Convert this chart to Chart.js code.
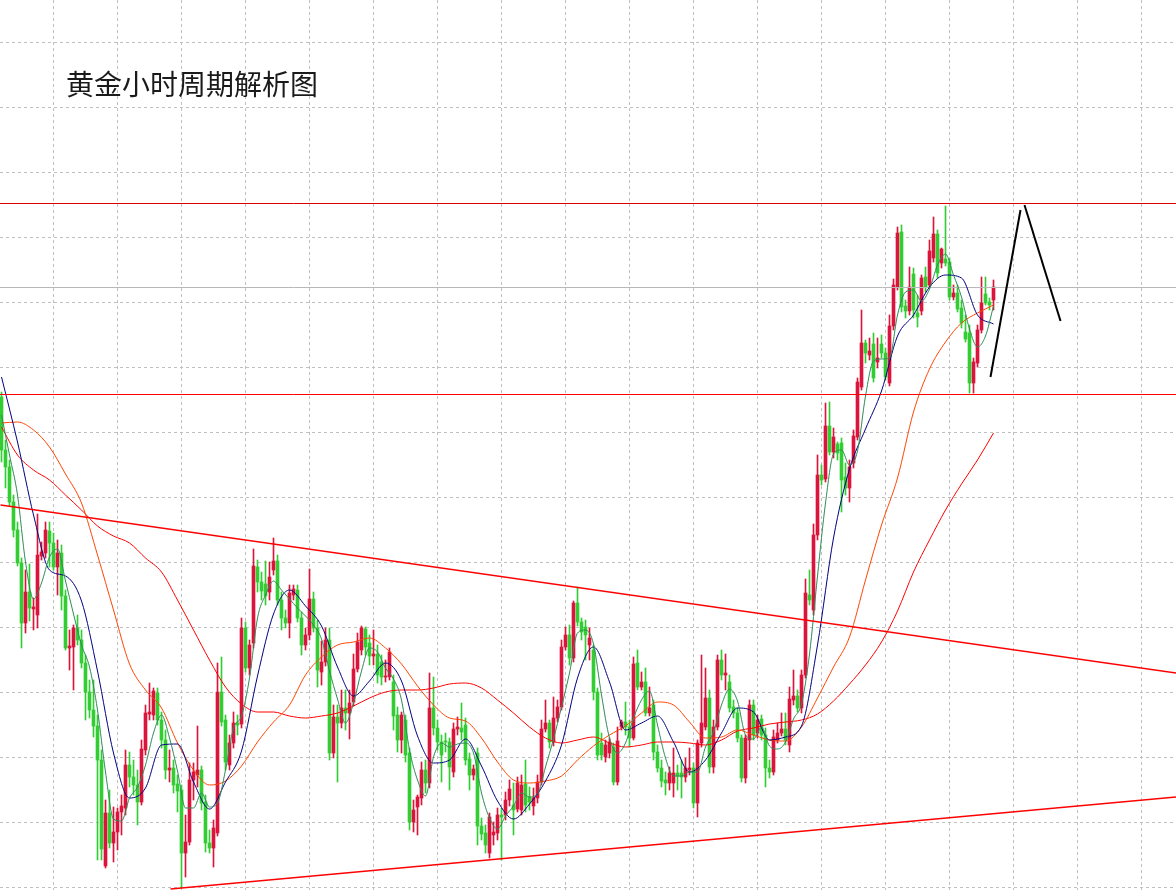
<!DOCTYPE html>
<html lang="zh">
<head>
<meta charset="UTF-8" />
<title>黄金小时周期解析图</title>
<script src="https://cdn.jsdelivr.net/npm/chart.js@4"></script>
<style>
  html, body { margin: 0; padding: 0; background: #ffffff; }
  .wrap { position: relative; width: 1176px; height: 890px; overflow: hidden; }
  #chart { display: block; }
  .title {
    position: absolute; left: 66px; top: 69px;
    font-family: "Noto Sans CJK SC", "Noto Sans", sans-serif;
    font-size: 28px; line-height: 28px; color: #1a1a1a; white-space: nowrap;
  }
</style>
</head>
<body>
<div class="wrap">
  <canvas id="chart" width="1176" height="890"></canvas>
  <div class="title">黄金小时周期解析图</div>
</div>

<script>
  // hourly candles, one entry per bar (oldest first)
  const opens = [1960.3,1955.0,1953.3,1949.8,1947.0,1943.7,1937.7,1940.8,1939.1,1938.5,
    1944.4,1944.7,1946.9,1945.7,1943.3,1944.7,1940.4,1935.2,1935.3,1937.2,
    1936.0,1933.7,1930.8,1929.0,1927.4,1924.0,1913.4,1918.7,1915.7,1916.8,
    1918.8,1919.2,1923.5,1922.3,1921.5,1919.8,1925.0,1928.6,1928.5,1930.7,
    1928.0,1926.0,1923.0,1923.2,1921.6,1921.0,1914.7,1915.8,1922.0,1922.5,
    1923.0,1919.8,1915.7,1915.2,1916.7,1930.8,1928.0,1923.5,1925.7,1927.7,
    1927.6,1937.2,1933.2,1935.7,1943.3,1941.8,1941.6,1940.8,1943.0,1943.9,
    1940.0,1938.2,1937.7,1940.5,1941.0,1938.2,1935.5,1936.5,1940.1,1937.2,
    1932.8,1933.8,1936.0,1924.7,1928.3,1927.7,1929.2,1928.7,1929.8,1933.1,
    1935.0,1937.1,1935.7,1934.4,1934.6,1933.8,1932.3,1932.3,1931.8,1928.5,
    1926.0,1928.0,1924.7,1917.8,1919.3,1920.2,1923.0,1921.7,1929.2,1927.2,
    1925.8,1925.9,1925.8,1922.8,1927.1,1927.2,1927.5,1924.1,1922.5,1924.7,
    1917.4,1916.7,1914.7,1916.5,1916.7,1918.5,1918.5,1920.0,1919.5,1919.1,
    1919.0,1921.6,1920.3,1919.4,1920.2,1921.8,1927.1,1927.7,1925.8,1928.2,
    1929.3,1935.3,1936.5,1934.2,1939.7,1937.8,1937.3,1935.5,1935.0,1930.8,
    1925.7,1924.3,1924.7,1925.3,1921.8,1927.3,1927.8,1927.3,1926.2,1933.7,
    1931.3,1931.8,1928.7,1929.5,1924.8,1923.2,1922.0,1921.7,1921.7,1922.7,
    1922.7,1922.3,1923.0,1923.2,1919.7,1925.7,1927.3,1930.2,1923.3,1927.3,
    1934.0,1932.5,1931.8,1929.3,1928.7,1926.2,1922.2,1926.0,1929.5,1926.7,
    1928.1,1926.5,1923.2,1922.8,1926.0,1926.7,1927.1,1925.5,1930.0,1930.4,
    1929.2,1932.5,1940.5,1939.0,1946.5,1952.5,1952.1,1957.4,1954.8,1955.6,
    1955.7,1952.3,1951.2,1953.7,1956.3,1961.3,1965.7,1964.5,1965.6,1963.8,
    1965.6,1964.7,1961.7,1967.4,1971.3,1976.8,1969.4,1968.9,1972.6,1968.7,
    1968.9,1972.3,1971.5,1974.2,1976.6,1973.7,1974.1,1973.8,1970.3,1970.7,
    1969.2,1966.8,1966.7,1961.7,1963.7,1967.0,1970.6,1969.8,1970.0];

  const highs = [1960.8,1956.0,1954.0,1950.5,1947.8,1944.2,1943.0,1943.6,1940.2,1948.6,
    1945.8,1947.8,1947.8,1946.7,1946.0,1945.5,1941.0,1937.0,1937.5,1938.5,
    1937.0,1934.5,1932.0,1932.0,1928.5,1925.0,1920.0,1921.0,1919.3,1919.2,
    1920.5,1925.0,1924.8,1924.0,1923.0,1926.0,1929.5,1931.7,1931.2,1931.2,
    1928.8,1927.0,1925.0,1924.0,1922.5,1921.5,1918.5,1923.7,1923.7,1927.4,
    1923.4,1920.5,1917.0,1918.0,1933.7,1934.3,1928.5,1926.5,1928.8,1928.5,
    1938.2,1937.8,1936.0,1945.1,1944.0,1942.8,1943.9,1943.8,1946.2,1944.5,
    1940.8,1939.0,1941.5,1941.5,1941.5,1938.8,1937.2,1943.1,1940.8,1938.0,
    1935.9,1937.2,1937.2,1929.5,1929.5,1931.0,1931.0,1931.0,1934.6,1936.7,
    1937.4,1937.3,1936.5,1937.0,1935.5,1934.5,1934.0,1935.2,1932.5,1929.3,
    1928.8,1928.5,1925.2,1920.0,1920.5,1923.8,1924.0,1932.7,1932.3,1928.0,
    1926.5,1926.7,1926.2,1927.7,1928.3,1929.7,1928.2,1924.7,1923.5,1925.2,
    1918.2,1917.5,1918.7,1917.8,1919.2,1919.2,1920.8,1922.0,1921.7,1922.3,
    1922.5,1924.0,1921.3,1921.2,1922.5,1928.0,1930.0,1928.0,1930.3,1930.0,
    1936.0,1937.3,1937.5,1939.9,1941.3,1938.2,1938.0,1937.2,1935.5,1931.2,
    1926.7,1926.0,1926.2,1925.7,1927.3,1928.0,1929.8,1928.0,1934.3,1935.0,
    1932.8,1933.2,1931.3,1930.0,1925.5,1924.0,1922.8,1923.3,1925.2,1923.5,
    1924.0,1924.2,1925.2,1923.7,1926.0,1934.5,1933.2,1931.0,1928.0,1934.5,
    1935.0,1934.6,1932.5,1930.0,1929.2,1926.5,1926.5,1930.0,1930.0,1928.5,
    1928.5,1927.2,1924.0,1927.0,1927.7,1928.7,1928.7,1931.3,1933.0,1931.0,
    1933.0,1942.1,1943.0,1947.6,1954.5,1953.5,1959.7,1959.8,1957.2,1955.8,
    1956.2,1953.7,1954.0,1957.0,1962.2,1969.0,1966.0,1966.2,1966.7,1966.2,
    1966.5,1965.2,1968.5,1972.1,1977.3,1977.5,1970.0,1973.3,1973.2,1970.5,
    1972.5,1973.3,1976.0,1978.3,1977.0,1975.2,1979.4,1974.2,1971.5,1971.5,
    1970.0,1968.5,1967.5,1964.2,1967.5,1972.3,1972.3,1970.2,1972.0];

  const lows = [1953.8,1951.2,1949.4,1946.3,1943.4,1935.2,1936.7,1937.9,1937.0,1937.2,
    1944.0,1944.2,1943.3,1943.0,1940.5,1939.0,1935.0,1933.0,1931.0,1935.5,
    1933.2,1928.0,1928.2,1926.3,1914.0,1914.0,1913.2,1915.2,1913.8,1915.0,
    1916.5,1918.5,1921.3,1920.5,1917.5,1919.5,1924.5,1928.0,1928.0,1927.5,
    1925.2,1922.1,1921.8,1920.7,1918.8,1911.2,1912.3,1915.5,1920.0,1921.3,
    1919.0,1914.8,1914.7,1913.3,1916.4,1927.4,1923.0,1923.0,1925.2,1926.5,
    1927.2,1932.8,1932.5,1935.2,1940.8,1940.0,1939.5,1940.0,1942.5,1939.5,
    1937.0,1937.2,1936.2,1940.0,1937.8,1934.5,1935.0,1936.0,1936.8,1931.3,
    1931.5,1933.4,1924.0,1924.2,1921.8,1927.2,1927.0,1926.1,1929.4,1932.8,
    1934.5,1934.5,1933.5,1933.5,1931.7,1931.5,1931.8,1932.0,1927.0,1924.8,
    1924.7,1923.8,1917.0,1916.8,1916.5,1919.5,1920.7,1921.2,1926.5,1925.0,
    1921.8,1924.8,1921.0,1922.3,1926.5,1926.0,1923.5,1921.0,1922.0,1915.5,
    1916.0,1914.7,1914.2,1915.5,1916.0,1914.0,1918.0,1919.4,1916.5,1918.8,
    1918.5,1918.8,1919.0,1918.5,1919.7,1921.5,1926.8,1925.2,1925.4,1927.8,
    1929.0,1935.0,1933.5,1933.8,1937.4,1936.0,1934.0,1934.0,1930.0,1924.0,
    1924.0,1923.8,1924.2,1921.5,1921.5,1927.0,1926.5,1925.3,1926.0,1931.0,
    1931.0,1928.4,1928.4,1924.0,1922.8,1921.3,1920.5,1921.0,1920.3,1921.0,
    1920.2,1921.8,1922.5,1919.2,1918.3,1925.3,1927.0,1922.7,1922.7,1927.0,
    1932.0,1931.0,1928.8,1928.2,1925.8,1921.8,1921.7,1924.0,1926.0,1926.2,
    1926.0,1921.3,1922.2,1922.5,1925.7,1926.4,1925.5,1924.8,1929.5,1928.8,
    1928.7,1932.2,1939.5,1938.5,1946.0,1951.5,1951.8,1954.5,1954.2,1954.0,
    1948.8,1950.5,1949.8,1953.2,1956.0,1961.0,1963.7,1964.0,1961.8,1963.2,
    1964.2,1962.0,1961.4,1967.0,1971.0,1968.8,1968.2,1968.5,1968.2,1967.3,
    1968.5,1970.8,1971.2,1973.8,1972.2,1973.2,1973.4,1970.0,1970.0,1968.8,
    1967.2,1965.8,1960.7,1960.7,1963.3,1966.7,1969.5,1969.0,1969.0];

  const closes = [1955.0,1953.3,1949.8,1947.0,1943.7,1937.7,1940.8,1939.2,1939.3,1944.5,
    1944.8,1947.0,1945.7,1943.3,1944.7,1940.4,1935.2,1935.4,1937.2,1936.0,
    1933.7,1930.8,1929.0,1927.4,1924.0,1915.1,1918.7,1915.7,1916.8,1918.8,
    1919.4,1923.5,1922.3,1921.5,1919.8,1925.1,1928.7,1928.8,1930.9,1928.0,
    1926.0,1923.0,1923.2,1921.5,1920.9,1914.7,1915.8,1922.0,1922.8,1923.0,
    1919.7,1915.7,1915.2,1917.2,1930.8,1927.8,1923.8,1925.7,1927.7,1927.5,
    1937.2,1933.2,1935.5,1943.4,1941.8,1940.9,1940.4,1942.3,1943.9,1940.0,
    1938.2,1937.7,1940.7,1941.1,1938.2,1935.5,1936.5,1940.1,1937.2,1933.0,
    1933.8,1936.0,1924.7,1928.3,1927.7,1929.2,1928.7,1929.7,1933.1,1935.8,
    1937.2,1935.3,1934.4,1934.6,1932.5,1932.3,1932.4,1934.8,1928.4,1926.0,
    1928.5,1924.5,1917.8,1919.0,1920.3,1923.0,1921.7,1929.2,1927.2,1925.8,
    1924.5,1925.8,1923.3,1927.1,1927.3,1926.8,1924.0,1922.5,1923.1,1917.4,
    1916.6,1915.5,1918.3,1916.8,1918.5,1918.3,1920.0,1921.1,1919.0,1921.7,
    1921.5,1919.5,1919.8,1920.2,1921.8,1927.1,1927.7,1925.8,1928.2,1929.3,
    1935.3,1936.5,1934.2,1939.7,1937.8,1936.8,1936.5,1936.2,1930.8,1924.5,
    1924.5,1925.5,1925.8,1921.8,1925.9,1927.8,1927.3,1926.2,1933.6,1931.3,
    1931.8,1928.7,1929.2,1924.8,1923.2,1921.9,1921.7,1922.7,1922.7,1922.4,
    1922.3,1923.2,1923.2,1919.7,1925.7,1927.7,1930.2,1923.3,1927.3,1934.0,
    1932.5,1932.7,1929.2,1928.7,1926.2,1922.2,1926.2,1929.5,1926.5,1928.0,
    1926.5,1923.2,1922.8,1926.3,1926.7,1927.1,1926.0,1930.1,1930.4,1929.2,
    1932.5,1940.7,1940.0,1946.5,1952.5,1952.0,1957.4,1954.8,1956.3,1954.7,
    1952.0,1951.2,1953.3,1956.4,1961.8,1965.7,1964.7,1964.9,1962.2,1964.2,
    1964.7,1962.3,1967.4,1971.5,1976.7,1969.3,1968.9,1971.3,1969.0,1968.3,
    1972.2,1971.3,1974.9,1976.6,1972.7,1975.1,1973.7,1970.3,1970.7,1969.1,
    1967.7,1966.1,1961.7,1963.8,1967.0,1969.7,1969.7,1969.5,1971.3];

  // fast moving average, read every 2nd bar
  const maFastIndex = [0,2,4,6,8,10,12,14,16,18,20,22,24,26,28,30,32,34,36,38,40,42,44,46,48,
    50,52,54,56,58,60,62,64,66,68,70,72,74,76,78,80,82,84,86,88,90,92,94,96,98,
    100,102,104,106,108,110,112,114,116,118,120,122,124,126,128,130,132,134,136,138,
    140,142,144,146,148,150,152,154,156,158,160,162,164,166,168,170,172,174,176,178,
    180,182,184,186,188,190,192,194,196,198,200,202,204,206,208,210,212,214,216,218,
    220,222,224,226,228,230,232,234,236,238,240,242,244,246,248];
  const ma5 = [1958.5,1954.5,1950.5,1943.8,1940.1,1941.7,1944.3,1945.1,1941.9,1938.6,
    1935.5,1933.3,1929.0,1922.8,1918.1,1917.9,1920.2,1921.3,1923.5,1926.7,
    1928.5,1926.2,1922.9,1919.2,1919.2,1920.7,1919.3,1919.7,1923.0,1927.2,
    1928.4,1932.2,1938.2,1940.5,1941.9,1941.0,1940.1,1939.2,1938.4,1937.5,
    1936.1,1932.9,1930.1,1927.7,1929.7,1932.9,1935.2,1934.8,1933.2,1932.1,
    1930.0,1925.0,1922.0,1920.4,1924.3,1925.7,1925.3,1925.6,1925.7,1924.7,
    1920.7,1918.2,1917.1,1918.4,1919.4,1920.7,1920.3,1920.6,1923.3,1926.1,
    1929.3,1932.7,1936.7,1937.0,1935.6,1930.5,1926.2,1924.7,1925.7,1928.2,
    1930.0,1930.9,1927.5,1924.2,1922.4,1922.4,1922.8,1922.8,1925.3,1926.8,
    1929.5,1931.1,1929.9,1926.5,1926.1,1927.3,1925.4,1925.1,1925.8,1928.1,
    1929.6,1934.6,1942.4,1949.7,1954.6,1955.0,1953.5,1954.9,1960.4,1963.9,
    1964.1,1964.2,1968.5,1970.8,1971.0,1969.9,1971.1,1973.5,1974.6,1972.5,
    1970.3,1967.1,1965.3,1966.4,1969.4];

  // slower moving averages, read every 4th bar
  const maIndex = [0,4,8,12,16,20,24,28,32,36,40,44,48,52,56,60,64,68,72,76,80,84,88,92,96,
    100,104,108,112,116,120,124,128,132,136,140,144,148,152,156,160,164,168,172,176,180,
    184,188,192,196,200,204,208,212,216,220,224,228,232,236,240,244,248];
  const ma10 = [1962.3,1955.8,1948.5,1943.0,1942.4,1939.9,1932.9,1924.7,1920.2,1921.2,1925.5,
    1925.6,1921.8,1919.1,1921.8,1924.9,1932.4,1938.6,1941.0,1939.4,1937.4,1933.3,1930.4,
    1931.9,1933.7,1931.9,1926.4,1923.7,1924.0,1926.1,1923.4,1919.9,1918.1,1919.6,1921.9,
    1925.5,1932.2,1935.3,1931.8,1927.0,1927.7,1928.4,1925.8,1922.8,1924.0,1926.7,1929.2,
    1928.8,1926.0,1926.3,1927.4,1935.5,1946.2,1953.1,1957.1,1960.9,1966.4,1968.5,1971.3,
    1972.5,1972.2,1968.5,1967.6];
  const ma30 = [1957.7,1957.8,1957.0,1955.3,1952.6,1949.7,1944.5,1939.0,1933.6,1931.0,1929.2,
    1925.7,1923.0,1921.5,1921.9,1923.4,1925.8,1927.8,1929.5,1932.5,1934.3,1935.5,1935.8,
    1936.2,1935.2,1933.6,1931.4,1929.5,1928.2,1927.9,1926.2,1923.8,1922.0,1921.7,1921.9,
    1922.4,1924.0,1925.4,1926.5,1927.4,1928.7,1929.8,1929.5,1927.8,1926.2,1926.3,1927.0,
    1926.5,1926.0,1925.9,1927.3,1930.2,1933.3,1936.3,1942.0,1947.5,1952.2,1958.8,1963.1,
    1965.8,1967.7,1968.7,1969.5];
  const ma60 = [1957.3,1954.5,1953.0,1952.0,1950.5,1949.0,1947.4,1946.4,1945.7,1944.2,1942.8,
    1940.0,1937.0,1934.0,1931.3,1929.6,1928.8,1928.8,1928.4,1928.2,1928.4,1928.7,1929.4,
    1930.2,1930.8,1931.0,1931.0,1931.2,1931.6,1931.7,1931.2,1930.0,1928.7,1927.3,1926.2,
    1925.7,1926.0,1926.3,1925.7,1925.3,1925.5,1925.8,1925.8,1925.7,1925.5,1926.0,1926.9,
    1927.2,1927.6,1927.8,1928.0,1928.6,1929.9,1931.6,1933.5,1935.8,1938.9,1942.8,1946.0,
    1949.0,1951.6,1954.0,1956.7];

  // drawn levels and trend lines
  const resistanceLevel = 1979.65;
  const pivotLevel = 1971.25;
  const supportLevel = 1960.55;
  const downTrend = [[-0.25, 1949.5], [293.75, 1932.7]];
  const upTrend = [[42.25, 1911.1], [293.75, 1920.3]];
  const forecastUp = [[247.25, 1962.3], [254.75, 1979.0]];
  const forecastDown = [[255.75, 1979.5], [264.75, 1967.9]];

  // grid positions
  const xGridTicks = [13, 29, 45, 61, 77, 93, 109, 125, 141, 157, 173, 189, 205, 221, 237, 253, 269, 285];
  const yGridTicks = [1995.8, 1989.3, 1982.8, 1976.3, 1969.8, 1963.3, 1956.8, 1950.3,
    1943.8, 1937.3, 1930.8, 1924.3, 1917.8, 1911.3];

  const upColor = "#dc143c";
  const downColor = "#32cd32";

  var candleColors = closes.map(function (c, i) {
    return c >= opens[i] ? upColor : downColor;
  });
  var bodies = closes.map(function (c, i) {
    return { x: i, y: [opens[i], c] };
  });
  var wicks = closes.map(function (c, i) {
    return { x: i, y: [lows[i], highs[i]] };
  });

  function toPoints(pairs) {
    return pairs.map(function (p) { return { x: p[0], y: p[1] }; });
  }
  function maPoints(index, values) {
    return index.map(function (x, k) { return { x: x, y: values[k] }; });
  }
  function level(v) {
    return [{ x: -5, y: v }, { x: 300, y: v }];
  }
  function line(data, color, width, smooth) {
    return {
      type: "line",
      data: data,
      borderColor: color,
      borderWidth: width,
      pointRadius: 0,
      fill: false,
      tension: smooth ? 0.4 : 0,
      cubicInterpolationMode: smooth ? "monotone" : "default",
    };
  }

  const data = {
    datasets: [
      line(toPoints(forecastUp), "#000000", 2),
      line(toPoints(forecastDown), "#000000", 2),
      line(toPoints(downTrend), "#ff0000", 1.5),
      line(toPoints(upTrend), "#ff0000", 1.5),
      line(level(supportLevel), "#ff0000", 1),
      line(maPoints(maFastIndex, ma5), "#2e8b57", 1, true),
      line(maPoints(maIndex, ma10), "#000080", 1, true),
      line(maPoints(maIndex, ma30), "#ff4500", 1, true),
      line(maPoints(maIndex, ma60), "#ff0000", 1, true),
      line(level(resistanceLevel), "#dd0000", 1),
      line(level(pivotLevel), "#b8b8b8", 1),
      {
        type: "bar",
        data: bodies,
        backgroundColor: candleColors,
        barThickness: 3,
        grouped: false,
        minBarLength: 1,
        borderWidth: 0,
      },
      {
        type: "bar",
        data: wicks,
        backgroundColor: candleColors,
        barThickness: 1,
        grouped: false,
        borderWidth: 0,
      },
    ],
  };

  const config = {
    type: "bar",
    data: data,
    options: {
      responsive: false,
      animation: false,
      devicePixelRatio: 1,
      events: [],
      layout: { padding: 0 },
      plugins: {
        legend: { display: false },
        tooltip: { enabled: false },
        title: { display: false },
      },
      scales: {
        x: {
          type: "linear",
          min: -0.375,
          max: 293.625,
          offset: false,
          ticks: { display: false },
          border: { display: false, dash: [3, 3] },
          grid: { color: "#c0c0c0", lineWidth: 1, drawTicks: false, offset: false },
          afterBuildTicks: function (scale) {
            scale.ticks = xGridTicks.map(function (v) { return { value: v }; });
          },
        },
        y: {
          type: "linear",
          min: 1911,
          max: 2000,
          beginAtZero: false,
          ticks: { display: false },
          border: { display: false, dash: [3, 3] },
          grid: { color: "#c0c0c0", lineWidth: 1, drawTicks: false },
          afterBuildTicks: function (scale) {
            scale.ticks = yGridTicks.map(function (v) { return { value: v }; });
          },
        },
      },
    },
  };

  const myChart = new Chart(document.getElementById("chart"), config);
</script>
</body>
</html>
